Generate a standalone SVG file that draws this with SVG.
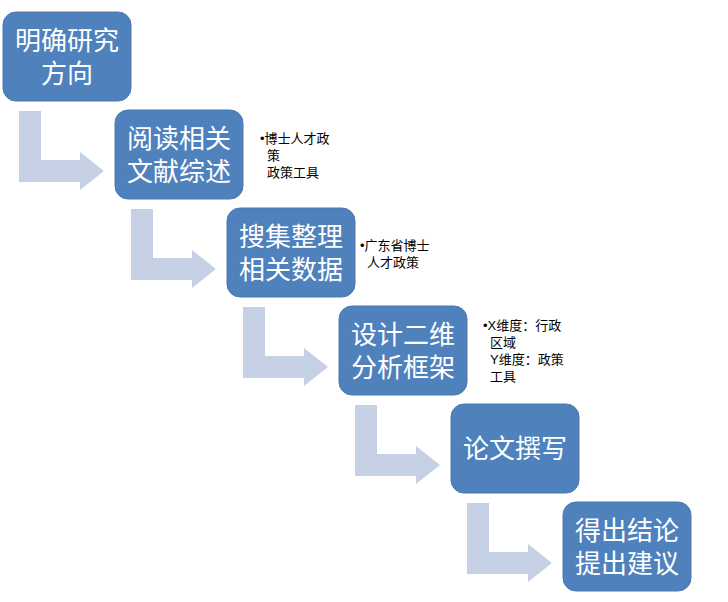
<svg xmlns="http://www.w3.org/2000/svg" width="728" height="602" viewBox="0 0 728 602">
<style>
.b{fill:#4f81bd;stroke:#4a78b0;stroke-width:1}
.t{font-family:"Liberation Sans","Noto Sans CJK SC",sans-serif;font-size:26px;fill:#fff;text-anchor:middle}
.n{font-family:"Liberation Sans","Noto Sans CJK SC",sans-serif;font-size:13px;fill:#000}
.a{fill:#c5d0e4}
</style>
<defs>
<path id="arr" d="M19,111 H41 V160 H80 V152 L104,171 L80,190 V182 H19 Z"/>
</defs>
<g id="connectors">
<use href="#arr" class="a"/>
<use href="#arr" class="a" transform="translate(112,98)"/>
<use href="#arr" class="a" transform="translate(224,196)"/>
<use href="#arr" class="a" transform="translate(336,294)"/>
<use href="#arr" class="a" transform="translate(448,392)"/>
</g>
<g id="n1"><rect class="b" x="3" y="12" width="128" height="89" rx="13"/><text class="t" x="67" y="50">明确研究</text><text class="t" x="67" y="83">方向</text></g>
<g id="n2"><rect class="b" x="115" y="110" width="128" height="89" rx="13"/><text class="t" x="179" y="148">阅读相关</text><text class="t" x="179" y="181">文献综述</text>
<text class="n" x="260" y="143">•博士人才政</text><text class="n" x="267" y="160">策</text><text class="n" x="267" y="177">政策工具</text></g>
<g id="n3"><rect class="b" x="227" y="208" width="128" height="89" rx="13"/><text class="t" x="291" y="246">搜集整理</text><text class="t" x="291" y="279">相关数据</text>
<text class="n" x="360" y="250">•广东省博士</text><text class="n" x="367" y="267">人才政策</text></g>
<g id="n4"><rect class="b" x="339" y="306" width="128" height="89" rx="13"/><text class="t" x="403" y="344">设计二维</text><text class="t" x="403" y="377">分析框架</text>
<text class="n" x="483" y="330">•X维度：行政</text><text class="n" x="490" y="347">区域</text><text class="n" x="490" y="364">Y维度：政策</text><text class="n" x="490" y="381">工具</text></g>
<g id="n5"><rect class="b" x="451" y="404" width="128" height="89" rx="13"/><text class="t" x="515" y="458">论文撰写</text></g>
<g id="n6"><rect class="b" x="563" y="502" width="128" height="89" rx="13"/><text class="t" x="627" y="540">得出结论</text><text class="t" x="627" y="573">提出建议</text></g>
</svg>
